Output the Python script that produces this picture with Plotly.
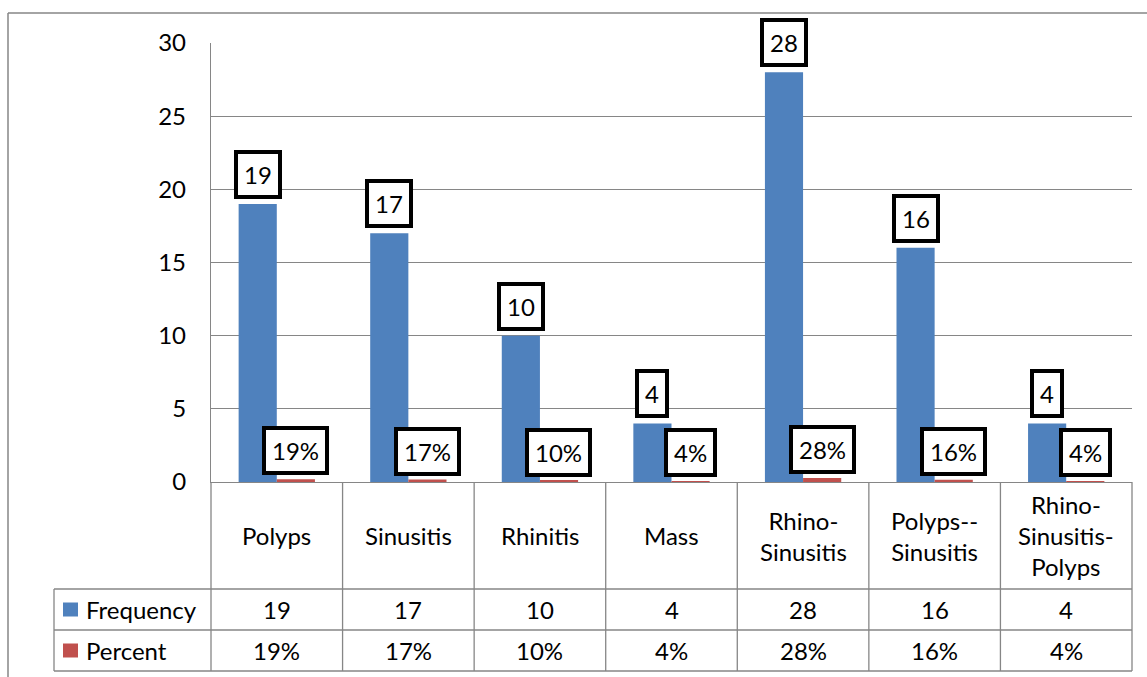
import re
import plotly.graph_objects as go

# Diagnoses and counts
categories = ["Polyps", "Sinusitis", "Rhinitis", "Mass",
              "Rhino-Sinusitis", "Polyps--Sinusitis", "Rhino-Sinusitis-Polyps"]
frequency = [19, 17, 10, 4, 28, 16, 4]
percent = [0.19, 0.17, 0.10, 0.04, 0.28, 0.16, 0.04]
series_names = ["Frequency", "Percent"]
y_ticks = [0, 5, 10, 15, 20, 25, 30]

BLUE = "#4F81BD"
RED = "#C0504D"
GRID = "#868686"
FONT = "Lato"
FS = 24

W, H = 1147, 677
L, R, T, B = 211, 1132, 43, 482  # plot area edges in pixels


def px(x):
    return (x - L) / (R - L)


def py(y):
    return (B - y) / (B - T)


def wrap(name):
    return re.sub(r"(-+)", r"\1<br>", name)


fig = go.Figure()
fig.add_trace(go.Bar(x=categories, y=frequency, name=series_names[0],
                     marker=dict(color=BLUE, line=dict(width=0))))
fig.add_trace(go.Bar(x=categories, y=percent, name=series_names[1],
                     marker=dict(color=RED, line=dict(width=0))))

n = len(categories)
half = 0.1445  # half of a bar slot in category units

shapes = []
annotations = []

# boxed value labels
for i, (f, p) in enumerate(zip(frequency, percent)):
    box = dict(xref="x", yref="y", showarrow=False, yanchor="bottom",
               font=dict(family=FONT, size=FS, color="black"),
               bgcolor="white", bordercolor="black", borderwidth=4, borderpad=6)
    annotations.append(dict(box, x=i - half, y=f, text=str(f), yshift=5))
    annotations.append(dict(box, x=i + half, y=p, text=f"{p:.0%}", yshift=4))

# data table beneath the plot
row_cat = (B, 589)
row_f = (589, 630)
row_p = (630, 671)
tbl_left = 54
line = dict(color=GRID, width=1.3)

for yy in (row_f[0], row_p[0], row_p[1]):
    shapes.append(dict(type="line", xref="paper", yref="paper",
                       x0=px(tbl_left), x1=1, y0=py(yy), y1=py(yy), line=line))
shapes.append(dict(type="line", xref="paper", yref="paper",
                   x0=px(tbl_left), x1=px(tbl_left), y0=py(row_f[0]), y1=py(row_p[1]), line=line))
for k in range(n + 1):
    xx = k / n
    shapes.append(dict(type="line", xref="paper", yref="paper",
                       x0=xx, x1=xx, y0=py(B), y1=py(row_p[1]), line=line))

for i, c in enumerate(categories):
    cell = dict(xref="x", yref="paper", x=i, showarrow=False, yanchor="middle",
                font=dict(family=FONT, size=FS, color="black"))
    annotations.append(dict(cell, y=py(sum(row_cat) / 2), text=wrap(c)))
    annotations.append(dict(cell, y=py(sum(row_f) / 2), text=str(frequency[i])))
    annotations.append(dict(cell, y=py(sum(row_p) / 2), text=f"{percent[i]:.0%}"))

# legend keys inside the table
for name, color, row in ((series_names[0], BLUE, row_f), (series_names[1], RED, row_p)):
    yc = sum(row) / 2
    shapes.append(dict(type="rect", xref="paper", yref="paper",
                       x0=px(63), x1=px(78), y0=py(yc + 7), y1=py(yc - 7),
                       fillcolor=color, line=dict(width=0)))
    annotations.append(dict(xref="paper", yref="paper", x=px(84), y=py(yc),
                            xanchor="left", yanchor="middle", showarrow=False, text=name,
                            font=dict(family=FONT, size=FS, color="black")))

# chart frame
shapes.append(dict(type="line", xref="paper", yref="paper",
                   x0=px(8), x1=px(W + 2), y0=py(13), y1=py(13), line=dict(color=GRID, width=1.5)))
shapes.append(dict(type="line", xref="paper", yref="paper",
                   x0=px(8), x1=px(8), y0=py(13), y1=py(H + 2), line=dict(color=GRID, width=1.5)))

fig.update_layout(
    width=W, height=H,
    margin=dict(l=L, r=W - R, t=T, b=H - B, pad=0),
    paper_bgcolor="white", plot_bgcolor="white",
    barmode="group", bargap=0.42, bargroupgap=0,
    showlegend=False,
    font=dict(family=FONT, size=FS, color="black"),
    shapes=shapes, annotations=annotations,
)
fig.update_xaxes(type="category", showticklabels=False, showgrid=False,
                 showline=True, linecolor=GRID, linewidth=1.3, ticks="",
                 range=[-0.5, n - 0.5])
fig.update_yaxes(range=[0, 30], tickvals=y_ticks, showgrid=True, gridcolor=GRID,
                 gridwidth=1.3, zeroline=False, showline=True, linecolor=GRID,
                 linewidth=1.3, ticks="", ticklabelstandoff=19,
                 tickfont=dict(family=FONT, size=FS, color="black"))

fig.write_html("out.html")
